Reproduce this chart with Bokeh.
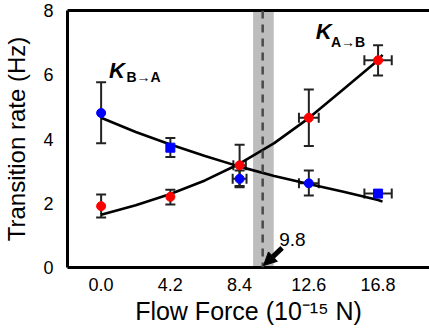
from bokeh.plotting import figure
from bokeh.models import (ColumnDataSource, Whisker, TeeHead, BoxAnnotation, Span, Arrow,
                          NormalHead, Label, FixedTicker, PrintfTickFormatter, LinearAxis, Range1d)
from bokeh.embed import file_html
from bokeh.resources import INLINE

# ---- data ----
force = [0.0, 4.2, 8.4, 12.6, 16.8]
tick_labels_x = [0.0, 4.2, 8.4, 12.6, 16.8]
ticks_y = [0, 2, 4, 6, 8]

k_ab = [1.91, 2.20, 3.18, 4.66, 6.45]          # red, A->B
k_ab_hi = [2.27, 2.42, 3.82, 5.54, 6.92]
k_ab_lo = [1.56, 1.96, 2.54, 3.78, 5.98]
k_ab_xerr = [0.0, 0.0, 0.38, 0.60, 0.83]

k_ba = [4.81, 3.73, 2.76, 2.62, 2.30]          # blue, B->A
k_ba_hi = [5.77, 4.03, 3.02, 3.02, 2.30]
k_ba_lo = [3.87, 3.44, 2.50, 2.24, 2.30]
k_ba_xerr = [0.0, 0.0, 0.42, 0.60, 0.83]
k_ba_marker = ["circle", "square", "circle", "circle", "square"]

fit_x = [0.0, 2.1, 4.2, 6.3, 8.4, 10.5, 12.6, 14.7, 16.8, 17.07]
fit_ab = [1.64, 1.94, 2.29, 2.71, 3.23, 3.87, 4.65, 5.55, 6.45, 6.62]
fit_ba = [4.66, 4.22, 3.83, 3.47, 3.14, 2.85, 2.60, 2.36, 2.10, 2.05]

crit_force = 9.8
band_lo, band_hi = 9.22, 10.47

FONT = "Liberation Sans"
ERR = "#222222"

p = figure(width=429, height=328, output_backend="svg", toolbar_location=None,
           x_range=Range1d(-2.04, 19.92), y_range=Range1d(0, 8),
           min_border_left=63, min_border_right=0, min_border_top=10, min_border_bottom=61)
p.grid.visible = False
p.outline_line_color = None
p.background_fill_color = "white"

# band + critical line
p.add_layout(BoxAnnotation(left=band_lo, right=band_hi, fill_color="#BDBDBD", fill_alpha=1.0,
                           line_color=None, level="underlay"))

# fit curves
p.line(fit_x, fit_ab, line_color="black", line_width=2.6)
p.line(fit_x, fit_ba, line_color="black", line_width=2.6)

p.add_layout(Span(location=crit_force, dimension="height", line_color="#4a4a4a",
                  line_width=2.5, line_dash="8 6"))

def add_whiskers(x, y, hi, lo, xerr):
    vx = [a for a, h, l in zip(x, hi, lo) if h - l > 0]
    vh = [h for h, l in zip(hi, lo) if h - l > 0]
    vl = [l for h, l in zip(hi, lo) if h - l > 0]
    src = ColumnDataSource(dict(x=vx, upper=vh, lower=vl))
    p.add_layout(Whisker(source=src, base="x", upper="upper", lower="lower",
                         line_color=ERR, line_width=2,
                         upper_head=TeeHead(size=10, line_color=ERR, line_width=2),
                         lower_head=TeeHead(size=10, line_color=ERR, line_width=2)))
    hy = [b for b, e in zip(y, xerr) if e > 0]
    hr = [a + e for a, e in zip(x, xerr) if e > 0]
    hl = [a - e for a, e in zip(x, xerr) if e > 0]
    src2 = ColumnDataSource(dict(y=hy, upper=hr, lower=hl))
    p.add_layout(Whisker(source=src2, base="y", upper="upper", lower="lower", dimension="width",
                         line_color=ERR, line_width=2,
                         upper_head=TeeHead(size=10, line_color=ERR, line_width=2),
                         lower_head=TeeHead(size=10, line_color=ERR, line_width=2)))

add_whiskers(force, k_ab, k_ab_hi, k_ab_lo, k_ab_xerr)
add_whiskers(force, k_ba, k_ba_hi, k_ba_lo, k_ba_xerr)

p.scatter(force, k_ab, marker="circle", size=9, fill_color="#FF0000", line_color="#FF0000")
src_ba = ColumnDataSource(dict(x=force, y=k_ba, m=k_ba_marker))
p.scatter("x", "y", source=src_ba, marker="m", size=9, fill_color="#0000FF", line_color="#0000FF")

# arrow + label
p.add_layout(Arrow(end=NormalHead(size=13, fill_color="black", line_color="black"),
                   x_start=10.98, y_start=0.61, x_end=9.85, y_end=0.06,
                   line_color="black", line_width=5))
p.add_layout(Label(x=10.8, y=0.66, text="9.8", text_font=FONT, text_font_size="19px",
                   text_color="black"))

# series labels
p.add_layout(Label(x=0.48, y=5.73, text="K", text_font=FONT, text_font_size="22px",
                   text_font_style="bold italic", text_color="black"))
p.add_layout(Label(x=1.54, y=5.67, text="B\u2192A", text_font=FONT, text_font_size="14px",
                   text_font_style="bold", text_color="black"))
p.add_layout(Label(x=13.02, y=6.97, text="K", text_font=FONT, text_font_size="22px",
                   text_font_style="bold italic", text_color="black"))
p.add_layout(Label(x=13.94, y=6.78, text="A\u2192B", text_font=FONT, text_font_size="14px",
                   text_font_style="bold", text_color="black"))

# axes styling
for ax in (p.xaxis[0], p.yaxis[0]):
    ax.axis_line_width = 3
    ax.axis_line_color = "black"
    ax.major_tick_line_color = None
    ax.minor_tick_line_color = None
    ax.major_label_text_font = FONT
    ax.major_label_text_font_size = "18px"
    ax.major_label_text_color = "black"
    ax.axis_label_text_font = FONT
    ax.axis_label_text_font_style = "normal"
    ax.axis_label_text_color = "black"
p.xaxis[0].major_label_standoff = 4
p.yaxis[0].major_label_standoff = 8

p.xaxis[0].ticker = FixedTicker(ticks=tick_labels_x)
p.xaxis[0].formatter = PrintfTickFormatter(format="%.1f")
p.xaxis[0].axis_label = "Flow Force (10\u207b\u00b9\u2075 N)"
p.xaxis[0].axis_label_text_font_size = "25px"
p.xaxis[0].axis_label_standoff = 3

p.yaxis[0].ticker = FixedTicker(ticks=ticks_y)
p.yaxis[0].axis_label = "Transition rate (Hz)"
p.yaxis[0].axis_label_text_font_size = "24px"
p.yaxis[0].axis_label_standoff = 10

top = LinearAxis(axis_line_width=3, axis_line_color="black", major_tick_line_color=None,
                 minor_tick_line_color=None, major_label_text_font_size="0px",
                 major_label_standoff=0, ticker=FixedTicker(ticks=[]))
p.add_layout(top, "above")

open("out.html", "w").write(file_html(p, INLINE))
